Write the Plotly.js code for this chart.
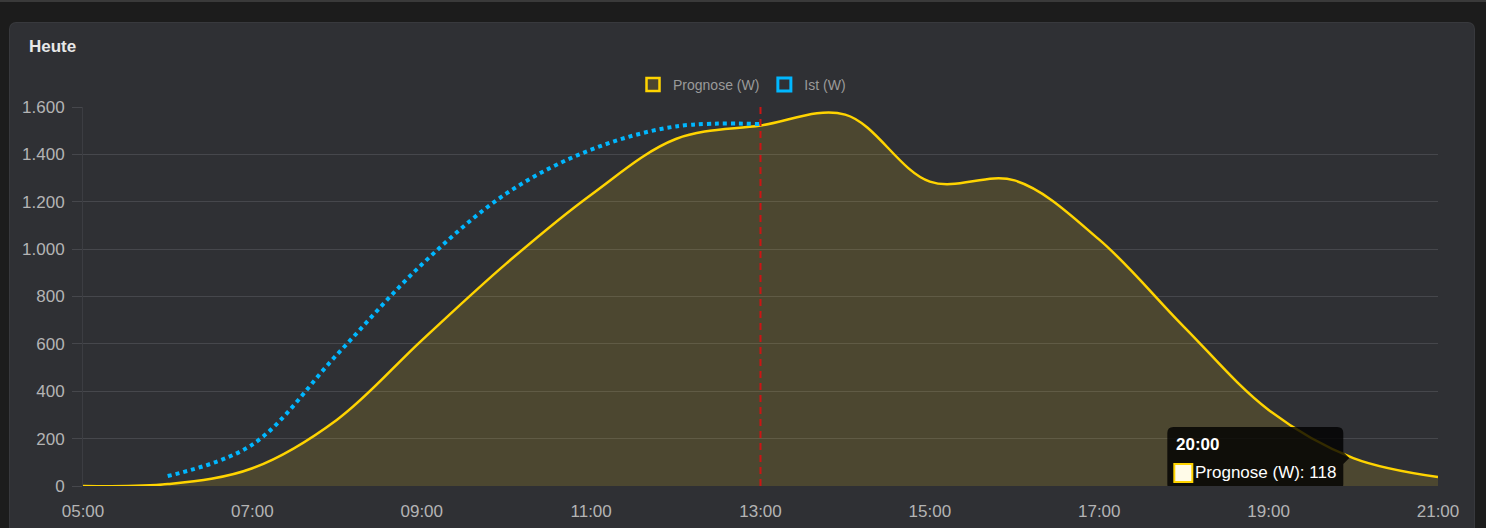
<!DOCTYPE html>
<html>
<head>
<meta charset="utf-8">
<script src="https://cdn.plot.ly/plotly-3.0.1.min.js"></script>
<style>
  html, body { margin: 0; padding: 0; background: #1c1c1c; width: 1486px; height: 528px; overflow: hidden; }
  #topline { position: absolute; left: 0; top: 0; width: 1486px; height: 2px; background: #3a3a3a; }
  #card { position: absolute; left: 10px; top: 23px; width: 1464px; height: 520px; background: #2f3034; border-radius: 6px; box-shadow: 0 0 0 1px #38393d; }
  #chart { position: absolute; left: 10px; top: 23px; width: 1464px; height: 505px; }
</style>
</head>
<body>
<div id="topline"></div>
<div id="card"></div>
<div id="chart"></div>
<script>
// ---- data ----
const timeLabels = ['05:00','06:00','07:00','08:00','09:00','10:00','11:00','12:00','13:00',
                    '14:00','15:00','16:00','17:00','18:00','19:00','20:00','21:00'];
const prognoseW  = [0, 8, 75, 280, 615, 940, 1230, 1465, 1522, 1568, 1285, 1290, 1040, 672, 321, 118, 38];
const istLabels  = ['06:00','07:00','08:00','09:00','10:00','11:00','12:00','13:00'];
const istW       = [42, 175, 555, 935, 1235, 1420, 1518, 1528];
const xTickLabels = ['05:00','07:00','09:00','11:00','13:00','15:00','17:00','19:00','21:00'];
const yTickValues = [0, 200, 400, 600, 800, 1000, 1200, 1400, 1600];
const yTickLabels = ['0','200','400','600','800','1.000','1.200','1.400','1.600'];
const nowLabel = '13:00';
const tooltipLabel = '20:00';
const seriesNames = ['Prognose (W)', 'Ist (W)'];
const chartTitle = 'Heute';

const day = '2024-06-01 ';
const toDate = t => day + t + ':00';

const tipIdx = timeLabels.indexOf(tooltipLabel);
const tipX = toDate(tooltipLabel);
const tipY = prognoseW[tipIdx];

const font = '"Liberation Sans", Arial, Helvetica, sans-serif';
const yellow = '#ffd400';
const blue = '#00b7ff';

const traces = [
  {
    type: 'scatter', mode: 'lines', name: seriesNames[0], showlegend: false,
    x: timeLabels.map(toDate), y: prognoseW,
    line: { color: yellow, width: 2.5, shape: 'spline', smoothing: 1 },
    fill: 'tozeroy', fillcolor: 'rgba(255,210,30,0.14)',
    hoverinfo: 'skip'
  },
  {
    type: 'scatter', mode: 'lines', name: seriesNames[1], showlegend: false,
    x: istLabels.map(toDate), y: istW,
    line: { color: blue, width: 4, dash: 'dot', shape: 'spline', smoothing: 1 },
    hoverinfo: 'skip'
  },
  // legend entries (box symbols like the reference)
  {
    type: 'scatter', mode: 'markers', name: seriesNames[0],
    x: [null], y: [null],
    marker: { symbol: 'square', size: 13, color: '#4b4630', line: { color: yellow, width: 2.5 } },
    hoverinfo: 'skip'
  },
  {
    type: 'scatter', mode: 'markers', name: seriesNames[1],
    x: [null], y: [null],
    marker: { symbol: 'square', size: 13, color: 'rgba(0,0,0,0)', line: { color: blue, width: 3 } },
    hoverinfo: 'skip'
  }
];

const gridColor = '#46474c';

const layout = {
  width: 1464, height: 505,
  margin: { l: 73, r: 36, t: 84, b: 42, pad: 0 },
  paper_bgcolor: 'rgba(0,0,0,0)',
  plot_bgcolor: 'rgba(0,0,0,0)',
  font: { family: font, color: '#b4b4b4', size: 17 },
  title: {
    text: '<b>' + chartTitle + '</b>',
    font: { family: font, size: 17, color: '#e8e8e8' },
    xref: 'container', x: 19 / 1464, xanchor: 'left',
    yref: 'container', y: 1 - 23 / 505, yanchor: 'middle'
  },
  showlegend: true,
  legend: {
    orientation: 'h',
    xref: 'container', x: 0.5, xanchor: 'center',
    yref: 'container', y: 1 - 62 / 505, yanchor: 'middle',
    font: { family: font, size: 14, color: '#9a9a9a' },
    itemwidth: 30,
    bgcolor: 'rgba(0,0,0,0)'
  },
  xaxis: {
    type: 'date',
    range: [toDate('05:00'), toDate('21:00')],
    tickvals: xTickLabels.map(toDate),
    ticktext: xTickLabels,
    showgrid: false, zeroline: false, showline: false,
    ticks: '', ticklabelstandoff: 13,
    tickfont: { family: font, size: 17, color: '#b4b4b4' },
    fixedrange: true
  },
  yaxis: {
    range: [0, 1600],
    tickvals: yTickValues, ticktext: yTickLabels,
    showgrid: true, gridcolor: gridColor, gridwidth: 1,
    zeroline: false,
    showline: true, linecolor: '#3c3d42', linewidth: 1,
    ticks: 'outside', ticklen: 10, tickcolor: gridColor, tickwidth: 1,
    ticklabelstandoff: 4,
    tickfont: { family: font, size: 17, color: '#b4b4b4' },
    fixedrange: true
  },
  shapes: [
    {
      type: 'line', xref: 'x', yref: 'paper',
      x0: toDate(nowLabel), x1: toDate(nowLabel), y0: 0, y1: 1,
      line: { color: '#cc1414', width: 2, dash: '7px,5px' }
    },
    {
      type: 'path', xref: 'x', yref: 'y',
      xsizemode: 'pixel', ysizemode: 'pixel',
      xanchor: tipX, yanchor: tipY,
      path: 'M -180,31 H -16 Q -10,31 -10,25 V 6 L -4,0 L -10,-6 V -26 Q -10,-32 -16,-32 H -180 Q -186,-32 -186,-26 V 25 Q -186,31 -180,31 Z',
      fillcolor: 'rgba(0,0,0,0.8)', line: { width: 0 }
    },
    {
      type: 'rect', xref: 'x', yref: 'y',
      xsizemode: 'pixel', ysizemode: 'pixel',
      xanchor: tipX, yanchor: tipY,
      x0: -179, x1: -161, y0: -24, y1: -6,
      fillcolor: '#fffbe8', line: { color: yellow, width: 2 }
    }
  ],
  annotations: [
    {
      xref: 'x', yref: 'y', x: tipX, y: tipY,
      text: '<b>' + tooltipLabel + '</b>',
      showarrow: false, xanchor: 'left', yanchor: 'middle',
      xshift: -179, yshift: 14,
      font: { family: font, size: 17, color: '#ffffff' }
    },
    {
      xref: 'x', yref: 'y', x: tipX, y: tipY,
      text: seriesNames[0] + ': ' + tipY,
      showarrow: false, xanchor: 'left', yanchor: 'middle',
      xshift: -160, yshift: -14,
      font: { family: font, size: 17, color: '#ffffff' }
    }
  ]
};

Plotly.newPlot('chart', traces, layout, { displayModeBar: false, staticPlot: true });
</script>
</body>
</html>
